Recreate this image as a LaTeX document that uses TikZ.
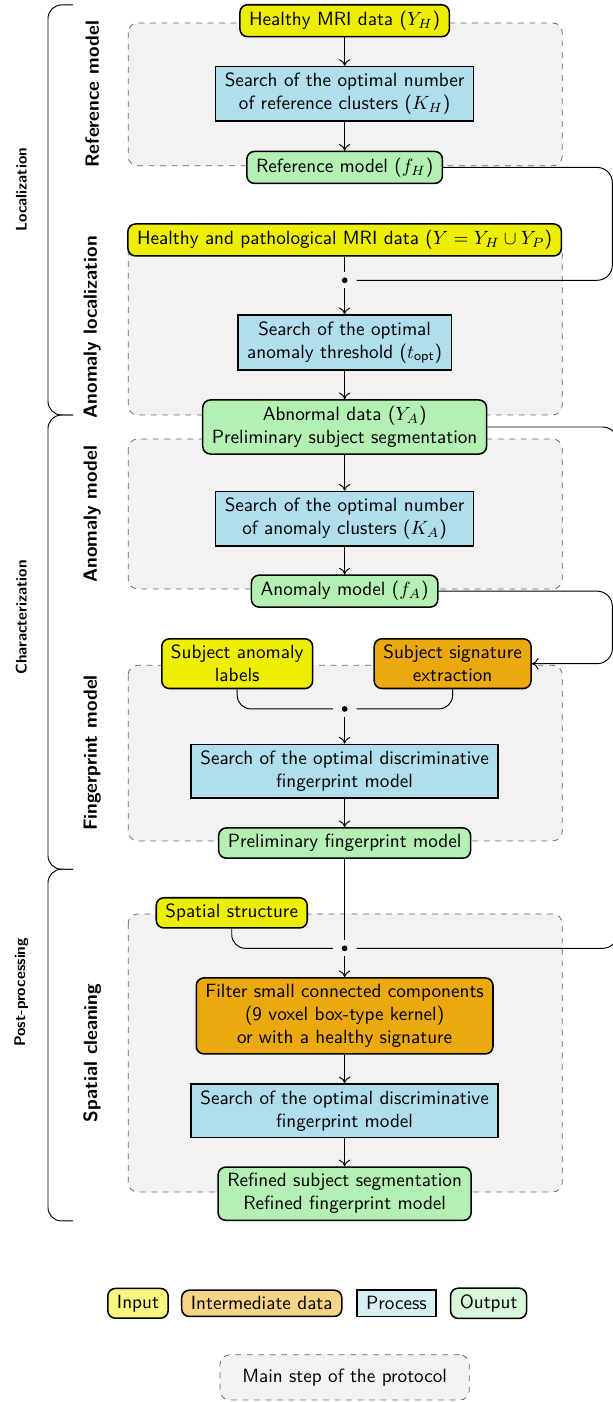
\documentclass[tikz,border=0pt]{standalone}
\usepackage{tikz}
\usetikzlibrary{calc,arrows.meta,backgrounds}
\renewcommand{\familydefault}{\sfdefault}
\definecolor{incol}{HTML}{EEEE00}
\definecolor{midcol}{HTML}{EBA90F}
\definecolor{proccol}{HTML}{B0DEEC}
\definecolor{outcol}{HTML}{B4EFB4}
\definecolor{stepcol}{HTML}{F2F2F2}
\tikzset{
	boxbase/.style={draw=black, thick, align=center, inner xsep=4.8pt},
	innode/.style={boxbase, rounded corners, fill=incol},
	midnode/.style={boxbase, rounded corners, fill=midcol},
	procnode/.style={boxbase, fill=proccol},
	outnode/.style={boxbase, rounded corners, fill=outcol},
	stepbox/.style={draw=black!60, dashed, fill=stepcol, rounded corners=5pt},
	steplabel/.style={rotate=90, font=\bfseries},
	phaselabel/.style={rotate=90, font=\footnotesize\bfseries},
	junction/.style={rectangle, inner sep=0pt, minimum width=12pt, minimum height=8pt,
		path picture={\fill (path picture bounding box.center) circle (1.5pt);}},
	wire/.style={line width=0.5pt},
	link/.style={wire, -{To[length=3.5pt, width=6pt]}},
	loopback/.style={wire, rounded corners=0.28cm},
	bracket/.style={wire, rounded corners=0.25cm}
}

\begin{document}
\begin{tikzpicture}
	\useasboundingbox (0,0) rectangle (11.24,-25.71);
	\coordinate (rx) at (11.23,0);
	\coordinate (rxout) at (11.33,0);

	% main steps
	\draw[stepbox] (2.35,-0.42) rectangle (10.31,-3.04);
	\draw[stepbox] (2.35,-4.40) rectangle (10.31,-7.61);
	\draw[stepbox] (2.35,-8.05) rectangle (10.31,-10.80);
	\draw[stepbox] (2.35,-12.20) rectangle (10.31,-15.42);
	\draw[stepbox] (2.35,-16.76) rectangle (10.31,-21.86);
	\node[steplabel] at (1.69,-1.73) {Reference model};
	\node[steplabel] at (1.69,-6.00) {Anomaly localization};
	\node[steplabel] at (1.69,-9.43) {Anomaly model};
	\node[steplabel] at (1.69,-13.81) {Fingerprint model};
	\node[steplabel] at (1.69,-19.31) {Spatial cleaning};

	% phases
	\draw[bracket] (1.34,-0.09) -| (0.88,-3.8) |- (1.34,-7.61);
	\draw[bracket] (1.34,-7.61) -| (0.88,-11.8) |- (1.34,-15.94);
	\draw[bracket] (1.34,-15.94) -| (0.88,-19.2) |- (1.34,-22.39);
	\node[phaselabel] at (0.39,-3.48) {Localization};
	\node[phaselabel] at (0.39,-11.32) {Characterization};
	\node[phaselabel] at (0.39,-18.20) {Post-processing};

	% nodes
	\node[innode] (yh) at (6.32,-0.38) {Healthy MRI data ($Y_H$)};
	\node[procnode] (kh) at (6.32,-1.72) {Search of the optimal number\\of reference clusters ($K_H$)};
	\node[outnode] (fh) at (6.32,-3.07) {Reference model ($f_H$)};
	\node[innode] (y) at (6.32,-4.40) {Healthy and pathological MRI data ($Y = Y_H \cup Y_P$)};
	\node[junction] (j1) at (6.32,-5.14) {};
	\node[procnode] (topt) at (6.32,-6.28) {Search of the optimal\\anomaly threshold ($t_{\mathsf{opt}}$)};
	\node[outnode] (ya) at (6.32,-7.83) {Abnormal data ($Y_A$)\\Preliminary subject segmentation};
	\node[procnode] (ka) at (6.32,-9.51) {Search of the optimal number\\of anomaly clusters ($K_A$)};
	\node[outnode] (fa) at (6.32,-10.84) {Anomaly model ($f_A$)};
	\node[innode] (lab) at (4.35,-12.17) {Subject anomaly\\labels};
	\node[midnode] (sig) at (8.30,-12.17) {Subject signature\\extraction};
	\node[junction] (j2) at (6.32,-13.00) {};
	\node[procnode] (fpa) at (6.32,-14.14) {Search of the optimal discriminative\\fingerprint model};
	\node[outnode] (pfp) at (6.32,-15.46) {Preliminary fingerprint model};
	\node[innode] (spat) at (4.25,-16.74) {Spatial structure};
	\node[junction] (j3) at (6.32,-17.39) {};
	\node[midnode] (filt) at (6.32,-18.63) {Filter small connected components\\(9 voxel box-type kernel)\\or with a healthy signature};
	\node[procnode] (fpb) at (6.32,-20.37) {Search of the optimal discriminative\\fingerprint model};
	\node[outnode] (rfp) at (6.32,-21.89) {Refined subject segmentation\\Refined fingerprint model};

	% connectors
	\draw[link] (yh) -- (kh);
	\draw[link] (kh) -- (fh);
	\draw[loopback] (fh.east) -- (fh.east -| rx) |- (j1);
	\draw[wire] (y) -- (j1);
	\draw[link] (j1) -- (topt);
	\draw[link] (topt) -- (ya);
	\draw[loopback] (ya.east) -- (ya.east -| rxout) |- (j3);
	\draw[link] (ya) -- (ka);
	\draw[link] (ka) -- (fa);
	\draw[loopback, link] (fa.east) -- (fa.east -| rx) |- (sig.east);
	\draw[bracket] (lab.south) |- (j2);
	\draw[bracket] (sig.south) |- (j2);
	\draw[link] (j2) -- (fpa);
	\draw[link] (fpa) -- (pfp);
	\draw[wire] (pfp) -- (j3);
	\draw[bracket] (spat.south) |- (j3);
	\draw[link] (j3) -- (filt);
	\draw[link] (filt) -- (fpb);
	\draw[link] (fpb) -- (rfp);

	% legend
	\node[innode, fill=incol!50] (lin) at (2.53,-23.90) {Input};
	\node[midnode, fill=midcol!50] (lmid) at (4.80,-23.90) {Intermediate data};
	\node[procnode, fill=proccol!50] (lproc) at (7.27,-23.90) {Process};
	\node[outnode, fill=outcol!50] (lout) at (8.96,-23.90) {Output};
	\node[stepbox, minimum width=4.57cm, minimum height=0.83cm] (lstep) at (6.32,-25.26) {Main step of the protocol};
\end{tikzpicture}
\end{document}
